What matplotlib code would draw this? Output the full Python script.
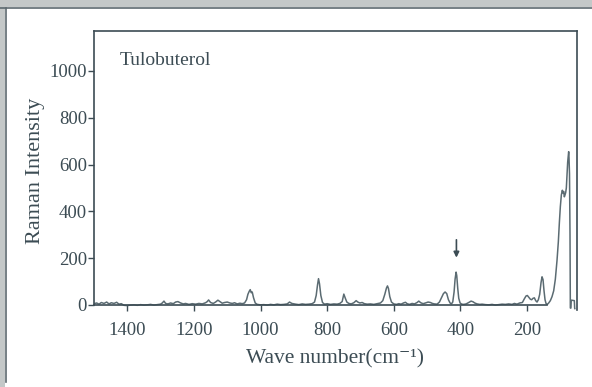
import matplotlib
matplotlib.use('Agg')
import matplotlib.pyplot as plt
from matplotlib.patches import Rectangle

# spectrum (wave number, intensity)
wavenumber = [1500, 1492, 1485, 1478, 1470, 1462, 1455, 1448, 1440, 1432, 1425, 1418, 1410, 1400,
              1390, 1380, 1370, 1360, 1350, 1340, 1330, 1320, 1310, 1300, 1295, 1290, 1285, 1278,
              1270, 1262, 1255, 1248, 1240, 1232, 1225, 1215, 1205, 1195, 1185, 1175, 1165, 1160,
              1156, 1150, 1142, 1135, 1128, 1122, 1115, 1108, 1100, 1092, 1085, 1078, 1070, 1062,
              1055, 1048, 1042, 1038, 1034, 1031, 1028, 1025, 1021, 1016, 1010, 1000, 990, 980,
              970, 960, 950, 940, 930, 920, 913, 906, 895, 885, 875, 865, 855, 845, 838, 833,
              829, 826, 823, 819, 814, 808, 800, 790, 780, 770, 762, 755, 750, 746, 741, 735,
              728, 720, 713, 708, 702, 695, 688, 680, 670, 660, 650, 640, 633, 627, 622, 619,
              616, 612, 607, 600, 592, 585, 578, 571, 565, 560, 553, 545, 538, 530, 525, 519,
              512, 505, 497, 490, 484, 478, 470, 463, 457, 451, 446, 441, 436, 431, 427, 423,
              419, 416, 413, 411, 408, 405, 401, 396, 390, 383, 375, 368, 362, 357, 350, 342,
              335, 325, 315, 305, 295, 285, 275, 265, 255, 245, 238, 230, 222, 214, 208, 203,
              199, 195, 190, 186, 182, 178, 174, 170, 166, 162, 158, 155, 152, 149, 146, 143,
              139, 135, 130, 125, 120, 115, 110, 106, 103, 100, 97, 94, 92, 90, 88, 86,
              84, 82, 80, 78, 76, 75, 74, 72.5, 71, 70, 69.5, 68.5, 67.5, 66.5, 62, 58,
              57, 56.5]
intensity = [5, 8, 3, 10, 6, 12, 4, 9, 6, 11, 3, 5, -2, -3,
             -1, 0, -2, 1, -1, 0, 2, -1, 1, 3, 8, 16, 6, 4,
             8, 5, 12, 14, 8, 4, 6, 2, 5, 3, 6, 4, 9, 14,
             21, 10, 6, 12, 20, 14, 7, 10, 12, 8, 6, 9, 4, 7,
             5, 8, 22, 45, 58, 65, 52, 55, 30, 8, 2, 0, 1, -1,
             2, 0, 3, 1, 2, 4, 12, 6, 3, 1, 4, 2, 3, 5, 12, 40,
             85, 112, 90, 40, 10, 3, 5, 2, 4, 3, 6, 14, 46, 30, 12, 6,
             4, 9, 18, 12, 8, 10, 5, 3, 4, 2, 5, 8, 18, 45, 72, 81,
             70, 35, 12, 4, 2, 5, 3, 8, 11, 5, 2, 6, 4, 10, 16, 9,
             5, 8, 12, 10, 6, 4, 3, 12, 30, 48, 55, 48, 22, 8, 4, 12,
             55, 110, 140, 125, 70, 28, 8, 3, 2, 4, 10, 16, 13, 8, 4, 2,
             3, 1, 0, 2, -1, 1, 3, 2, 4, 2, 6, 3, 8, 10, 26, 38,
             40, 33, 24, 22, 28, 30, 18, 12, 22, 45, 95, 120, 108, 60, 22, 6,
             2, 8, 18, 35, 60, 110, 190, 270, 350, 420, 470, 490, 478, 485, 462, 470,
             480, 500, 560, 610, 640, 655, 630, 560, 300, -13, -14, -14, 18, 20, 19, 18,
             -14, -16]

label_x = 'Wave number(cm\u207b\u00b9)'
label_y = 'Raman Intensity'
title_text = 'Tulobuterol'
xticks = [1400, 1200, 1000, 800, 600, 400, 200]
yticks = [0, 200, 400, 600, 800, 1000]
arrow_wn = 412
arrow_from = 290
arrow_to = 190

ink = '#3c4c54'
line_c = '#5b6b72'

plt.rcParams['font.family'] = ['Liberation Serif', 'DejaVu Serif']

fig = plt.figure(figsize=(5.92, 3.87), dpi=100)
fig.patch.set_facecolor('white')
# scan border, top and left
fig.patches.append(Rectangle((0, 1 - 7/387), 1, 7/387, transform=fig.transFigure,
                             facecolor='#c4c8c8', edgecolor='none', zorder=0))
fig.patches.append(Rectangle((0, 0), 5/592, 1, transform=fig.transFigure,
                             facecolor='#c4c8c8', edgecolor='none', zorder=0))
fig.add_artist(plt.Line2D([0, 1], [1 - 8/387, 1 - 8/387], transform=fig.transFigure, color='#5d6a70', lw=1.2))
fig.add_artist(plt.Line2D([6/592, 6/592], [5/387, 1 - 8/387], transform=fig.transFigure, color='#5d6a70', lw=1.2))

ax = fig.add_axes([94/592, 1 - 310/387, (577 - 94)/592, (310 - 31)/387])
ax.plot(wavenumber, intensity, color=line_c, lw=1.1)
ax.set_xlim(1500, 50)
ax.set_ylim(-22, 1171)

ax.spines['bottom'].set_position(('data', 0))
ax.spines['bottom'].set_bounds(1500, 140)
ax.spines['left'].set_bounds(0, 1171)
for s in ax.spines.values():
    s.set_color(ink)
    s.set_linewidth(1.2)

ax.set_xticks(xticks)
ax.set_yticks(yticks)
ax.tick_params(axis='both', direction='out', length=4, width=1, colors=ink, labelsize=13.5)
ax.tick_params(axis='x', pad=8)
ax.tick_params(axis='y', pad=1)

ax.set_xlabel(label_x, fontsize=15.5, color=ink, labelpad=8)
ax.set_ylabel(label_y, fontsize=16, color=ink, labelpad=3)
ax.text(0.054, 0.896, title_text, transform=ax.transAxes, fontsize=14, color=ink, va='center')

ax.annotate('', xy=(arrow_wn, arrow_to), xytext=(arrow_wn, arrow_from),
            arrowprops=dict(arrowstyle='-|>', color=ink, lw=1.2, mutation_scale=8))

fig.savefig('out.png', dpi=100)
